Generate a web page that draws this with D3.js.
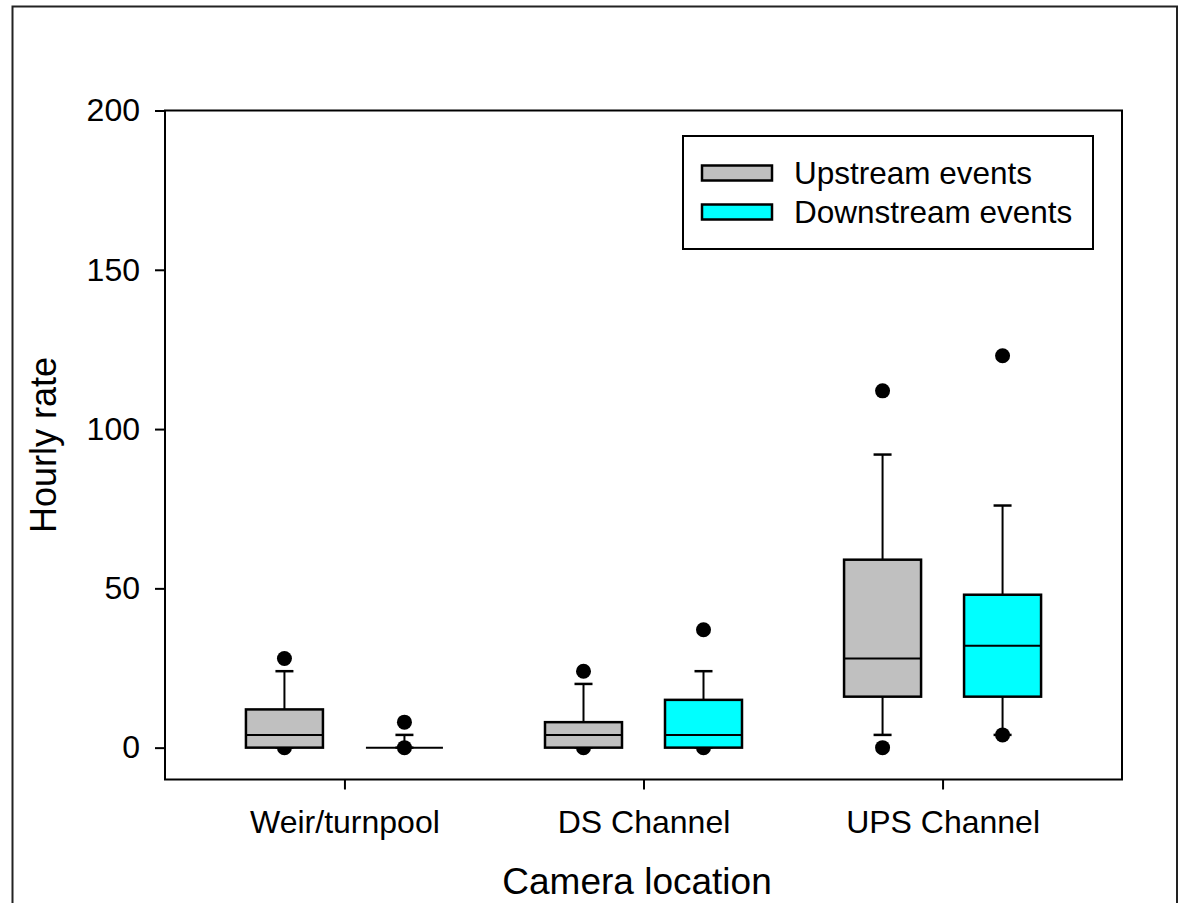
<!DOCTYPE html>
<html>
<head>
<meta charset="utf-8">
<script src="https://cdn.jsdelivr.net/npm/d3@7"></script>
<style>
  body { margin: 0; background: #fff; }
  svg { display: block; font-family: "Liberation Sans", Arial, sans-serif; }
</style>
</head>
<body>
<svg id="chart" width="1182" height="903"></svg>
<script>
// box plot values (whiskers 10th/90th, dots 5th/95th)
var categories = ["Weir/turnpool", "DS Channel", "UPS Channel"];
var series = ["Upstream events", "Downstream events"];
var colours = ["#c0c0c0", "#00ffff"];
var yTicks = [0, 50, 100, 150, 200];

var upP5     = [0, 0, 0];
var upP10    = [0, 0, 4];
var upQ1     = [0, 0, 16];
var upMedian = [4, 4, 28];
var upQ3     = [12, 8, 59];
var upP90    = [24, 20, 92];
var upP95    = [28, 24, 112];

var downP5     = [0, 0, 4];
var downP10    = [0, 0, 4];
var downQ1     = [0, 0, 16];
var downMedian = [0, 4, 32];
var downQ3     = [0, 15, 48];
var downP90    = [4, 24, 76];
var downP95    = [8, 37, 123];

var stats = [
  { p5: upP5, p10: upP10, q1: upQ1, med: upMedian, q3: upQ3, p90: upP90, p95: upP95 },
  { p5: downP5, p10: downP10, q1: downQ1, med: downMedian, q3: downQ3, p90: downP90, p95: downP95 }
];

// flatten into one row per box
var boxes = [];
categories.forEach(function (c, i) {
  series.forEach(function (s, j) {
    var st = stats[j];
    boxes.push({ cat: c, ser: s, col: colours[j],
      p5: st.p5[i], p10: st.p10[i], q1: st.q1[i], med: st.med[i],
      q3: st.q3[i], p90: st.p90[i], p95: st.p95[i] });
  });
});

var svg = d3.select("#chart"),
    pLeft = 165, pRight = 1122, pTop = 110.5, pBottom = 779.5,
    boxW = 77, capW = 18, dotR = 7.5;

var x = d3.scalePoint().domain(categories).range([pLeft, pRight]).padding(0.6);
var xs = d3.scalePoint().domain(series).range([-60, 60]);
var y = d3.scaleLinear().domain([-10, 200]).range([pBottom, pTop]);

// outer frame of the page
svg.append("rect")
    .attr("x", 12.5).attr("y", 6.5)
    .attr("width", 1164.5).attr("height", 910)
    .attr("fill", "none").attr("stroke", "#222").attr("stroke-width", 2);

// axes
var yAxis = svg.append("g")
    .attr("transform", `translate(${pLeft},0)`)
    .call(d3.axisLeft(y).tickValues(yTicks).tickSize(10).tickPadding(15));
yAxis.select(".domain").remove();
yAxis.selectAll("line").attr("stroke", "#000").attr("stroke-width", 2);
yAxis.selectAll("text").style("font-size", "32px").attr("fill", "#000")
    .attr("font-family", "Liberation Sans, Arial, sans-serif");

var xAxis = svg.append("g")
    .attr("transform", `translate(0,${pBottom})`)
    .call(d3.axisBottom(x).tickSize(10).tickPadding(21));
xAxis.select(".domain").remove();
xAxis.selectAll("line").attr("stroke", "#000").attr("stroke-width", 2);
xAxis.selectAll("text").style("font-size", "32px").attr("fill", "#000")
    .attr("font-family", "Liberation Sans, Arial, sans-serif");

// plot frame
svg.append("rect")
    .attr("x", pLeft).attr("y", pTop)
    .attr("width", pRight - pLeft).attr("height", pBottom - pTop)
    .attr("fill", "none").attr("stroke", "#000").attr("stroke-width", 2);

var g = svg.append("g");
var bx = function (d) { return x(d.cat) + xs(d.ser); };

// 5th / 95th percentile dots, drawn first so the boxes sit on top
boxes.forEach(function (d) {
  [d.p5, d.p95].forEach(function (v) {
    g.append("circle")
        .attr("cx", bx(d)).attr("cy", y(v)).attr("r", dotR)
        .attr("fill", "#000");
  });
});

var b = g.selectAll(".box").data(boxes).enter().append("g").attr("class", "box");

// whiskers
b.append("line")
    .attr("x1", bx).attr("x2", bx)
    .attr("y1", d => y(d.p10)).attr("y2", d => y(d.p90))
    .attr("stroke", "#000").attr("stroke-width", 2);
b.append("line")
    .attr("x1", d => bx(d) - capW / 2).attr("x2", d => bx(d) + capW / 2)
    .attr("y1", d => y(d.p90)).attr("y2", d => y(d.p90))
    .attr("stroke", "#000").attr("stroke-width", 2.5);
b.append("line")
    .attr("x1", d => bx(d) - capW / 2).attr("x2", d => bx(d) + capW / 2)
    .attr("y1", d => y(d.p10)).attr("y2", d => y(d.p10))
    .attr("stroke", "#000").attr("stroke-width", 2.5);

// boxes and medians
b.append("rect")
    .attr("x", d => bx(d) - boxW / 2).attr("width", boxW)
    .attr("y", d => y(d.q3)).attr("height", d => y(d.q1) - y(d.q3))
    .attr("fill", d => d.col).attr("stroke", "#000").attr("stroke-width", 2.5);
b.append("line")
    .attr("x1", d => bx(d) - boxW / 2).attr("x2", d => bx(d) + boxW / 2)
    .attr("y1", d => y(d.med)).attr("y2", d => y(d.med))
    .attr("stroke", "#000").attr("stroke-width", 2);

// axis titles
svg.append("text")
    .attr("x", 637).attr("y", 894)
    .attr("text-anchor", "middle").style("font-size", "37px")
    .text("Camera location");
svg.append("text")
    .attr("transform", `translate(56,${(pTop + pBottom) / 2}) rotate(-90)`)
    .attr("text-anchor", "middle").style("font-size", "36px")
    .text("Hourly rate");

// legend
var legend = svg.append("g");
legend.append("rect")
    .attr("x", 683).attr("y", 136).attr("width", 410).attr("height", 113)
    .attr("fill", "#fff").attr("stroke", "#000").attr("stroke-width", 2);
series.forEach(function (s, j) {
  var cy = 173 + j * 39;
  legend.append("rect")
      .attr("x", 702).attr("y", cy - 7.5).attr("width", 70).attr("height", 15)
      .attr("fill", colours[j]).attr("stroke", "#000").attr("stroke-width", 2.5);
  legend.append("text")
      .attr("x", 794).attr("y", cy + 11)
      .style("font-size", "31.5px")
      .text(s);
});
</script>
</body>
</html>
